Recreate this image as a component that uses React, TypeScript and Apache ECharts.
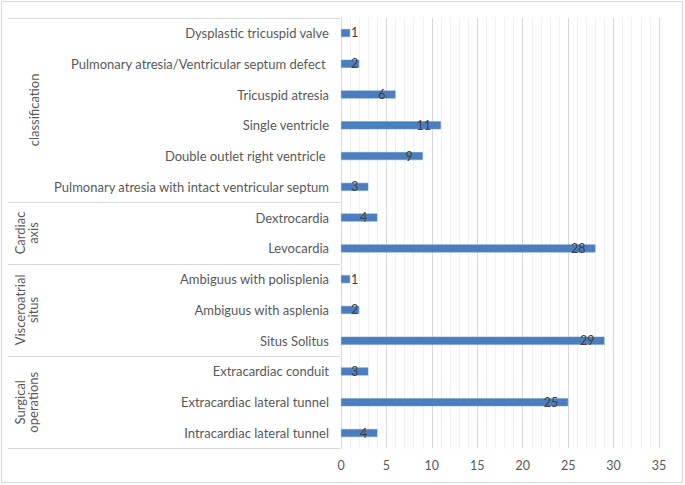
import React, { useEffect, useRef } from "react";
import * as echarts from "echarts";

const categories = [
  "Dysplastic tricuspid valve",
  "Pulmonary atresia/Ventricular septum defect ",
  "Tricuspid atresia",
  "Single ventricle",
  "Double outlet right ventricle ",
  "Pulmonary atresia with intact ventricular septum",
  "Dextrocardia",
  "Levocardia",
  "Ambiguus with polisplenia",
  "Ambiguus with asplenia",
  "Situs Solitus",
  "Extracardiac conduit",
  "Extracardiac lateral tunnel",
  "Intracardiac lateral tunnel",
];

const values = [1, 2, 6, 11, 9, 3, 4, 28, 1, 2, 29, 3, 25, 4];

const groupNames = ["classification", "Cardiac\naxis", "Visceroatrial\nsitus", "Surgical\noperations"];
const groupSizes = [6, 2, 3, 3];

const xTicks = { min: 0, max: 35, interval: 5 };

const FONT = "Lato";
const TEXT = "#595959";
const GRID = "#d9d9d9";
const BAR = "#4a7ebf";

export default function App() {
  const ref = useRef<HTMLDivElement>(null);

  useEffect(() => {
    if (!ref.current) return;
    const chart = echarts.init(ref.current, null, { renderer: "svg" });
    chart.setOption({
      animation: false,
      textStyle: { fontFamily: FONT },
      grid: { left: 341, right: 26, top: 17.6, bottom: 36.6, containLabel: false },
      xAxis: {
        type: "value",
        min: xTicks.min,
        max: xTicks.max,
        interval: xTicks.interval,
        axisLine: { show: false },
        axisTick: { show: false },
        axisLabel: { color: TEXT, fontSize: 12.5, fontFamily: FONT, margin: 11 },
        splitLine: { show: true, lineStyle: { color: GRID, width: 1 } },
        minorTick: { show: false, splitNumber: 5 },
        minorSplitLine: { show: true, lineStyle: { color: "#f0f0f0", width: 1 } },
      },
      yAxis: {
        type: "category",
        inverse: true,
        data: categories,
        axisLine: { show: true, lineStyle: { color: GRID } },
        axisTick: { show: false },
        axisLabel: { color: TEXT, fontSize: 13, fontFamily: FONT, margin: 12 },
        splitLine: { show: false },
      },
      series: [
        {
          type: "bar",
          barWidth: 8,
          itemStyle: { color: BAR, borderColor: "#6f98cc", borderWidth: 0.5 },
          label: {
            show: true,
            position: "insideRight",
            distance: 10,
            color: "#404040",
            fontSize: 12.5,
            fontFamily: FONT,
          },
          data: values.map((v) =>
            v <= 2 ? { value: v, label: { position: "insideLeft", distance: 10 } } : v
          ),
        },
      ],
    });

    // group column drawn from the category axis scale
    const c0 = chart.convertToPixel({ yAxisIndex: 0 }, 0) as number;
    const c1 = chart.convertToPixel({ yAxisIndex: 0 }, 1) as number;
    const band = c1 - c0;
    const axisX = (chart.convertToPixel({ xAxisIndex: 0 }, 0) as number) - 1;
    const graphics: any[] = [
      {
        type: "rect",
        shape: { x: 1.5, y: 1.5, width: 681, height: 481 },
        style: { fill: "none", stroke: GRID, lineWidth: 1 },
        silent: true,
      },
    ];
    let start = 0;
    const boundary = (i: number) => (chart.convertToPixel({ yAxisIndex: 0 }, i) as number) - band / 2;
    graphics.push({
      type: "line",
      shape: { x1: 8, y1: Math.round(boundary(0)) + 0.5, x2: axisX, y2: Math.round(boundary(0)) + 0.5 },
      style: { stroke: GRID, lineWidth: 1 },
      silent: true,
    });
    groupNames.forEach((name, gi) => {
      const end = start + groupSizes[gi];
      const yTop = boundary(start);
      const yBot = yTop + band * groupSizes[gi];
      const lines = name.split("\n").length;
      graphics.push({
        type: "line",
        shape: { x1: 8, y1: Math.round(yBot) + 0.5, x2: axisX, y2: Math.round(yBot) + 0.5 },
        style: { stroke: GRID, lineWidth: 1 },
        silent: true,
      });
      graphics.push({
        type: "text",
        x: lines > 1 ? 26 : 34,
        y: (yTop + yBot) / 2,
        rotation: Math.PI / 2,
        style: {
          text: name,
          fill: TEXT,
          fontSize: 13,
          fontFamily: FONT,
          align: "center",
          verticalAlign: "middle",
          lineHeight: 13,
        },
        silent: true,
      });
      start = end;
    });
    chart.setOption({ graphic: graphics });

    return () => chart.dispose();
  }, []);

  return (
    <div
      ref={ref}
      style={{ position: "absolute", left: 0, top: 0, width: 685, height: 485, background: "#fff" }}
    />
  );
}
